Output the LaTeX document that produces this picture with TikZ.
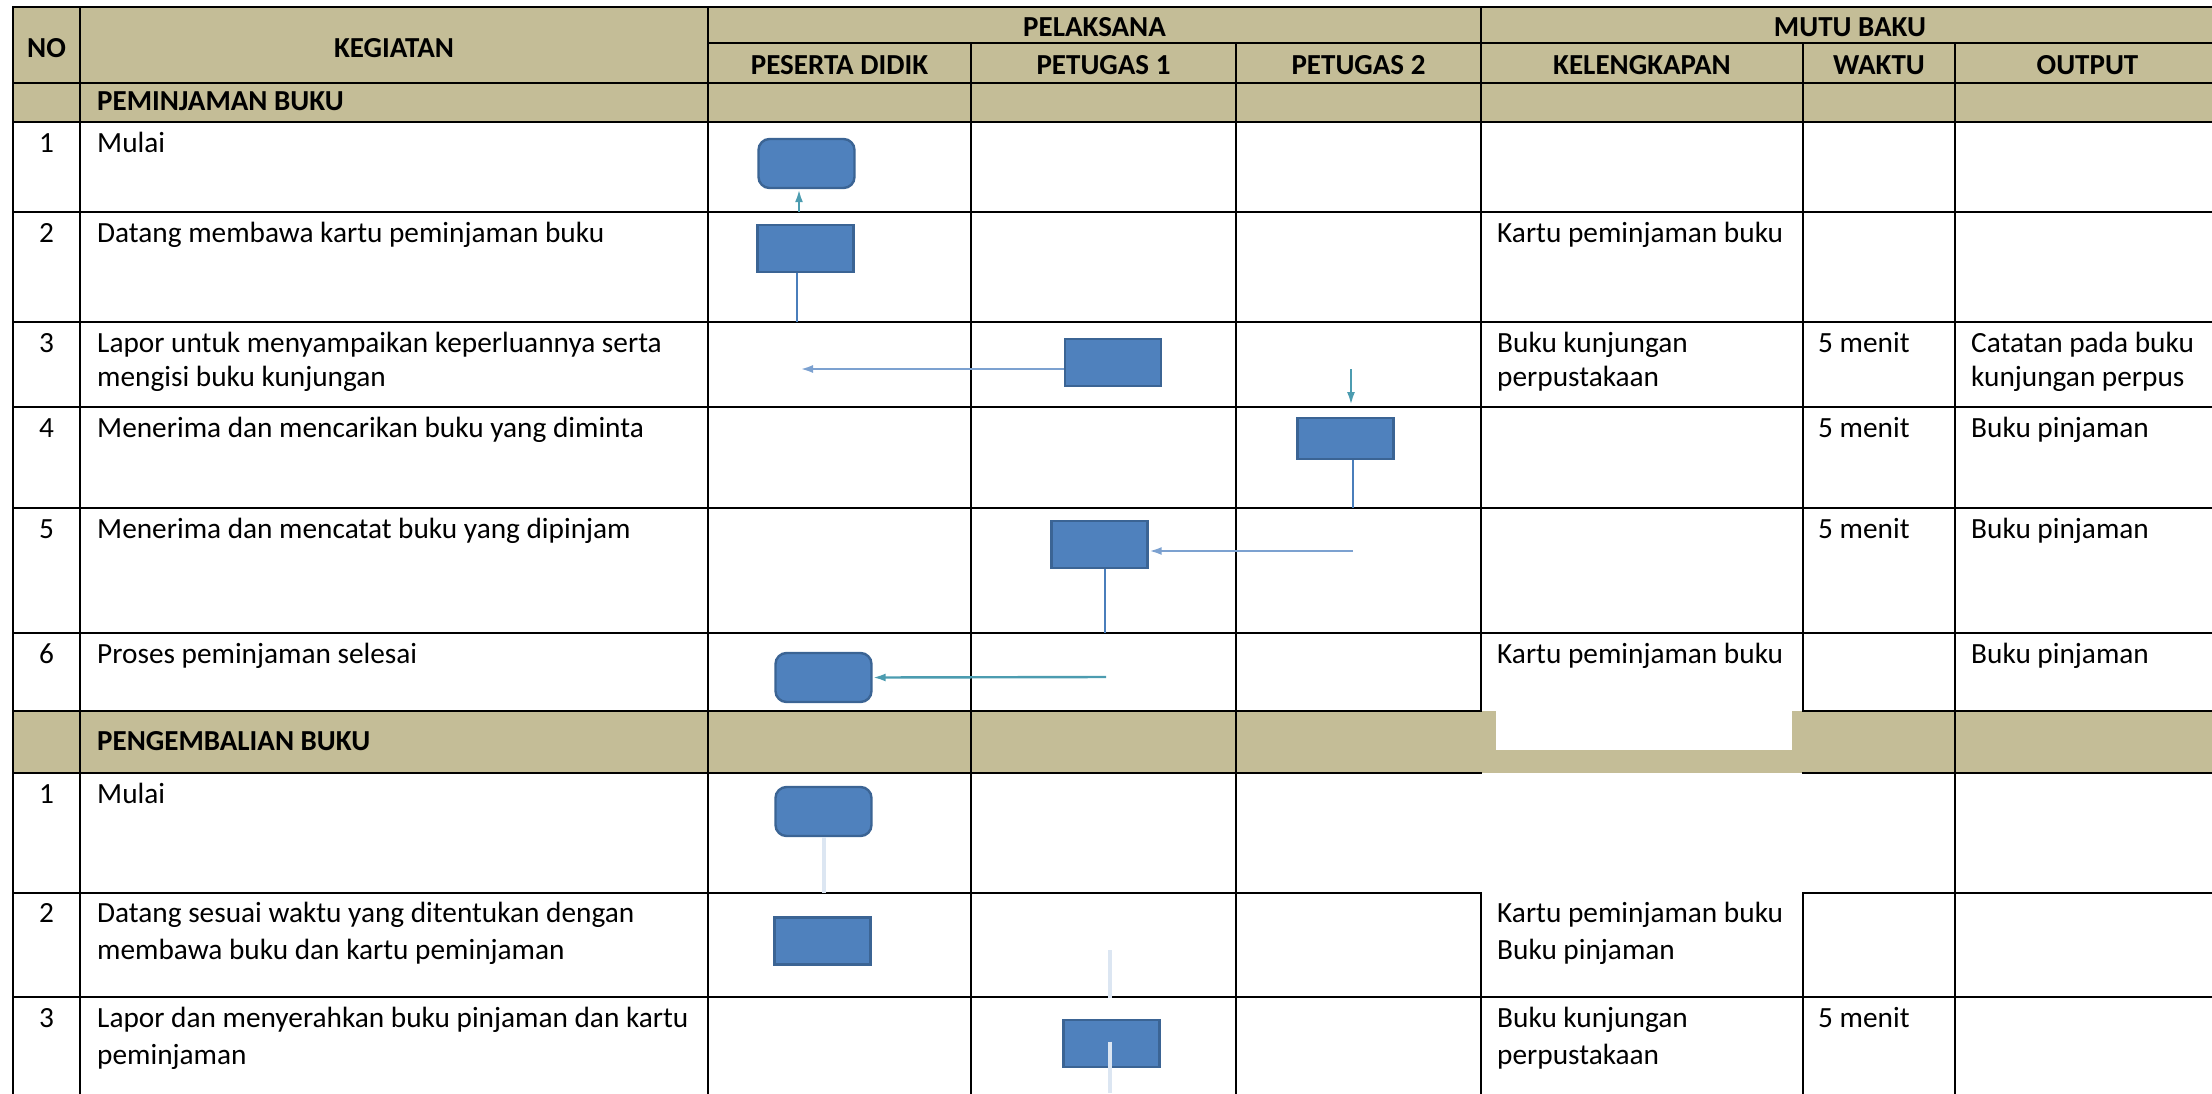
\documentclass[tikz,border=0pt]{standalone}
\usepackage{fontspec}
\setmainfont{Carlito}
\usetikzlibrary{arrows.meta,positioning,calc}
\definecolor{sopbeige}{HTML}{C4BD97}
\definecolor{sopblue}{HTML}{4F81BD}
\definecolor{sopedge}{HTML}{3B6494}
\definecolor{sopline}{HTML}{4A7EBB}
\definecolor{soplight}{HTML}{7CA1D0}
\definecolor{sopteal}{HTML}{4C9CB0}
\definecolor{sopfaint}{HTML}{DCE6F2}
\tikzset{
  >={Latex[length=13pt,width=8pt]},
  tabline/.style={draw=black, line width=2.6pt, line cap=rect},
  headtxt/.style={font=\fontsize{29}{34}\selectfont\bfseries, inner sep=0pt, anchor=base},
  secttxt/.style={headtxt, anchor=base west},
  bodytxt/.style={font=\fontsize{29.3}{34}\selectfont, inner sep=0pt, anchor=base west, align=left},
  bodytxtb/.style={bodytxt, font=\fontsize{29.3}{37}\selectfont},
  numtxt/.style={font=\fontsize{29.3}{34}\selectfont, inner sep=0pt, anchor=base},
  proc/.style={
    rectangle, draw=sopedge, line width=2.4pt, fill=sopblue,
    minimum width=96pt, minimum height=47pt, inner sep=0pt
  },
  term/.style={proc, rounded corners=11pt, minimum height=49pt},
  flow/.style={draw=sopline, line width=2.2pt},
  back/.style={->, draw=soplight, line width=2.8pt},
  tealflow/.style={draw=sopteal, line width=2.4pt},
  faint/.style={draw=sopfaint, line width=4pt},
}

\begin{document}
\begin{tikzpicture}[x=1pt, y=-1pt]
\useasboundingbox (0,0) rectangle (2212,1093);
% --- Fills ---
\fill[sopbeige] (13,7) rectangle (2212,122);
\fill[sopbeige] (13,711) rectangle (2212,773);
\fill[white] (1496,711) rectangle (1792,750);
% --- Grid ---
\foreach \y in {7,83,122,212,322,407,508,633,997}
  \draw[tabline] (13,\y) -- (2212,\y);
\draw[tabline] (708,43) -- (2212,43);
\foreach \y in {711,773,893} {
  \draw[tabline] (13,\y) -- (1481,\y);
  \draw[tabline] (1803,\y) -- (2212,\y);
}
\foreach \x in {13,80,708} \draw[tabline] (\x,7) -- (\x,1093);
\foreach \x in {971,1236,1955} \draw[tabline] (\x,43) -- (\x,1093);
\draw[tabline] (1481,7) -- (1481,711);
\draw[tabline] (1481,893) -- (1481,1093);
\draw[tabline] (1803,43) -- (1803,711);
\draw[tabline] (1803,893) -- (1803,1093);
% --- Header ---
\node[headtxt] (hNo) at (46.5,57) {NO};
\node[headtxt] (hKeg) at (394,57) {KEGIATAN};
\node[headtxt] (hPel) at (1094.5,36) {PELAKSANA};
\node[headtxt] (hMutu) at (1850,36) {MUTU BAKU};
\node[headtxt] (hPes) at (839.5,74) {PESERTA DIDIK};
\node[headtxt] (hPt1) at (1103.5,74) {PETUGAS 1};
\node[headtxt] (hPt2) at (1358.5,74) {PETUGAS 2};
\node[headtxt] (hKel) at (1642,74) {KELENGKAPAN};
\node[headtxt] (hWak) at (1879,74) {WAKTU};
\node[headtxt] (hOut) at (2087.5,74) {OUTPUT};
% --- Peminjaman ---
\node[secttxt] (sec1) at (97,110) {PEMINJAMAN BUKU};
\node[numtxt] (n1) at (46.5,152) {1};
\node[bodytxt] (k1) at (97,152) {Mulai};
\node[numtxt] (n2) at (46.5,242) {2};
\node[bodytxt] (k2) at (97,242) {Datang membawa kartu peminjaman buku};
\node[bodytxt] (l2) at (1497,242) {Kartu peminjaman buku};
\node[numtxt] (n3) at (46.5,352) {3};
\node[bodytxt] (k3) at (97,386) {Lapor untuk menyampaikan keperluannya serta\\mengisi buku kunjungan};
\node[bodytxt] (l3) at (1497,386) {Buku kunjungan\\perpustakaan};
\node[bodytxt] (w3) at (1818,352) {5 menit};
\node[bodytxt] (o3) at (1971,386) {Catatan pada buku\\kunjungan perpus};
\node[numtxt] (n4) at (46.5,437) {4};
\node[bodytxt] (k4) at (97,437) {Menerima dan mencarikan buku yang diminta};
\node[bodytxt] (w4) at (1818,437) {5 menit};
\node[bodytxt] (o4) at (1971,437) {Buku pinjaman};
\node[numtxt] (n5) at (46.5,538) {5};
\node[bodytxt] (k5) at (97,538) {Menerima dan mencatat buku yang dipinjam};
\node[bodytxt] (w5) at (1818,538) {5 menit};
\node[bodytxt] (o5) at (1971,538) {Buku pinjaman};
\node[numtxt] (n6) at (46.5,663) {6};
\node[bodytxt] (k6) at (97,663) {Proses peminjaman selesai};
\node[bodytxt] (l6) at (1497,663) {Kartu peminjaman buku};
\node[bodytxt] (o6) at (1971,663) {Buku pinjaman};
% --- Pengembalian ---
\node[secttxt] (sec2) at (97,750) {PENGEMBALIAN BUKU};
\node[numtxt] (m1) at (46.5,803) {1};
\node[bodytxt] (g1) at (97,803) {Mulai};
\node[numtxt] (m2) at (46.5,922) {2};
\node[bodytxtb] (g2) at (97,959) {Datang sesuai waktu yang ditentukan dengan\\membawa buku dan kartu peminjaman};
\node[bodytxtb] (q2) at (1497,959) {Kartu peminjaman buku\\Buku pinjaman};
\node[numtxt] (m3) at (46.5,1027) {3};
\node[bodytxtb] (g3) at (97,1064) {Lapor dan menyerahkan buku pinjaman dan kartu\\peminjaman};
\node[bodytxtb] (q3) at (1497,1064) {Buku kunjungan\\perpustakaan};
\node[bodytxt] (v3) at (1818,1027) {5 menit};
% --- Flow boxes ---
\node[term] (b1) at (806.5,163.5) {};
\node[proc] (b2) at (805.5,248.5) {};
\node[proc] (b3) at (1113,362.5) {};
\node[proc, minimum height=41pt] (b4) at (1345.5,438.5) {};
\node[proc] (b5) at (1099.5,544.5) {};
\node[term] (b6) at (823.5,677.5) {};
\node[term] (b7) at (823.5,811.5) {};
\node[proc] (b8) at (822.5,941) {};
\node[proc] (b9) at (1111.5,1043.5) {};
% --- Connectors ---
\coordinate (e1) at (799,212);
\coordinate (e2) at (797,322);
\coordinate (e3) at (800,369);
\coordinate (t4) at (1351,369);
\coordinate (u4) at (1351,405);
\coordinate (e4) at (1353,508);
\coordinate (s5) at (1353,551);
\coordinate (e5) at (1105,633);
\coordinate (s6) at (1106,677);
\coordinate (e7) at (824,893);
\coordinate (f8) at (1110,950);
\coordinate (g8) at (1110,998);
\coordinate (f9) at (1110,1093);
\draw[tealflow, <-] ([xshift=-7.5pt]b1.south) -- (e1);
\draw[flow] ([xshift=-8.5pt]b2.south) -- (e2);
\draw[back] ([yshift=-6.5pt]b3.west) -- (e3);
\draw[tealflow, ->] (t4) -- (u4);
\draw[flow] ([xshift=7.5pt]b4.south) -- (e4);
\draw[back] (s5) -- ([yshift=-6.5pt]b5.east);
\draw[flow] ([xshift=5.5pt]b5.south) -- (e5);
\draw[tealflow, ->] (s6) -- (b6.east);
\draw[faint] ([xshift=0.5pt]b7.south) -- (e7);
\draw[faint] (f8) -- (g8);
\draw[faint] ([xshift=-1.5pt,yshift=2pt]b9.center) -- (f9);
\end{tikzpicture}
\end{document}
